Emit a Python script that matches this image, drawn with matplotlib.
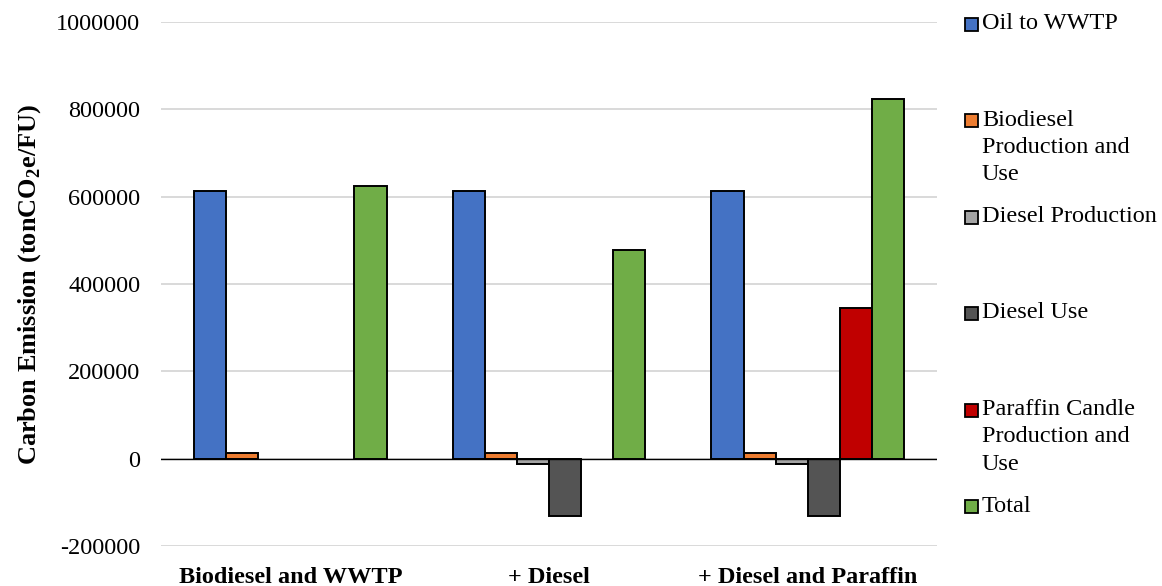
import matplotlib
matplotlib.use("Agg")
import matplotlib.pyplot as plt
from matplotlib.patches import Rectangle
import numpy as np

plt.rcParams["font.family"] = ["Liberation Serif", "DejaVu Serif"]
plt.rcParams["mathtext.fontset"] = "custom"
plt.rcParams["mathtext.rm"] = "Liberation Serif"
plt.rcParams["mathtext.bf"] = "Liberation Serif:bold"

# Scenarios (x categories)
scenarios = ["Biodiesel and WWTP", "+ Diesel", "+ Diesel and Paraffin"]

# Emission contributions per scenario (tonCO2e/FU)
oil_to_wwtp = [612000, 612000, 612000]
biodiesel_prod_use = [12000, 12000, 12000]
diesel_production = [0, -13000, -13000]
diesel_use = [0, -132000, -132000]
paraffin_candle = [0, 0, 345000]
total = [624000, 479000, 824000]

series_names = [
    "Oil to WWTP",
    "Biodiesel\nProduction and\nUse",
    "Diesel Production",
    "Diesel Use",
    "Paraffin Candle\nProduction and\nUse",
    "Total",
]
series_values = [oil_to_wwtp, biodiesel_prod_use, diesel_production,
                 diesel_use, paraffin_candle, total]
series_colors = ["#4472C4", "#ED7D31", "#A5A5A5", "#545454", "#C00000", "#70AD47"]

yticks = [-200000, 0, 200000, 400000, 600000, 800000, 1000000]

W, H = 1162, 586
fig = plt.figure(figsize=(W / 100, H / 100), dpi=100)
ax = fig.add_axes([161 / W, 1 - 546 / H, (937 - 161) / W, (546 - 22) / H])

x = np.arange(len(scenarios))
bar_w = 0.124
n = len(series_values)
for i, (vals, col) in enumerate(zip(series_values, series_colors)):
    # empty (zero) bars get no outline so they don't thicken the zero line
    lws = [1.4 if v != 0 else 0 for v in vals]
    ax.bar(x + (i - (n - 1) / 2) * bar_w, vals, width=bar_w, color=col,
           edgecolor="black", linewidth=lws, zorder=3)

ax.set_xlim(-0.5, len(scenarios) - 0.5)
ax.set_ylim(yticks[0], yticks[-1])
ax.set_yticks(yticks)
ax.set_yticklabels([str(t) for t in yticks], fontsize=17.5)
ax.set_xticks(x)
ax.set_xticklabels(scenarios, fontsize=17.5, fontweight="bold")
ax.tick_params(axis="y", length=0, pad=15)
ax.tick_params(axis="x", length=0, pad=15)

for s in ax.spines.values():
    s.set_visible(False)
ax.grid(axis="y", color="#D9D9D9", linewidth=1.4, zorder=0)
ax.set_axisbelow(True)
ax.axhline(0, color="black", linewidth=1.0, zorder=4)

ax.set_ylabel("Carbon Emission (tonCO$_\\mathbf{2}$e/FU)", fontsize=19,
              fontweight="bold")
ax.yaxis.set_label_coords(-(161 - 43) / (937 - 161), 0.5)

# Legend drawn entry by entry down the right-hand side
leg_x = 965
leg_y0 = 24
leg_step = 96.5
sq = 13
for i, (name, col) in enumerate(zip(series_names, series_colors)):
    yc = leg_y0 + i * leg_step
    fig.patches.append(Rectangle(((leg_x) / W, 1 - (yc + sq / 2) / H),
                                 sq / W, sq / H, transform=fig.transFigure,
                                 facecolor=col, edgecolor="black",
                                 linewidth=1.3))
    fig.text((leg_x + sq + 4) / W, 1 - (yc - 11) / H, name, fontsize=17.5,
             ha="left", va="top", linespacing=1.4)

fig.savefig("out.png", dpi=100)
